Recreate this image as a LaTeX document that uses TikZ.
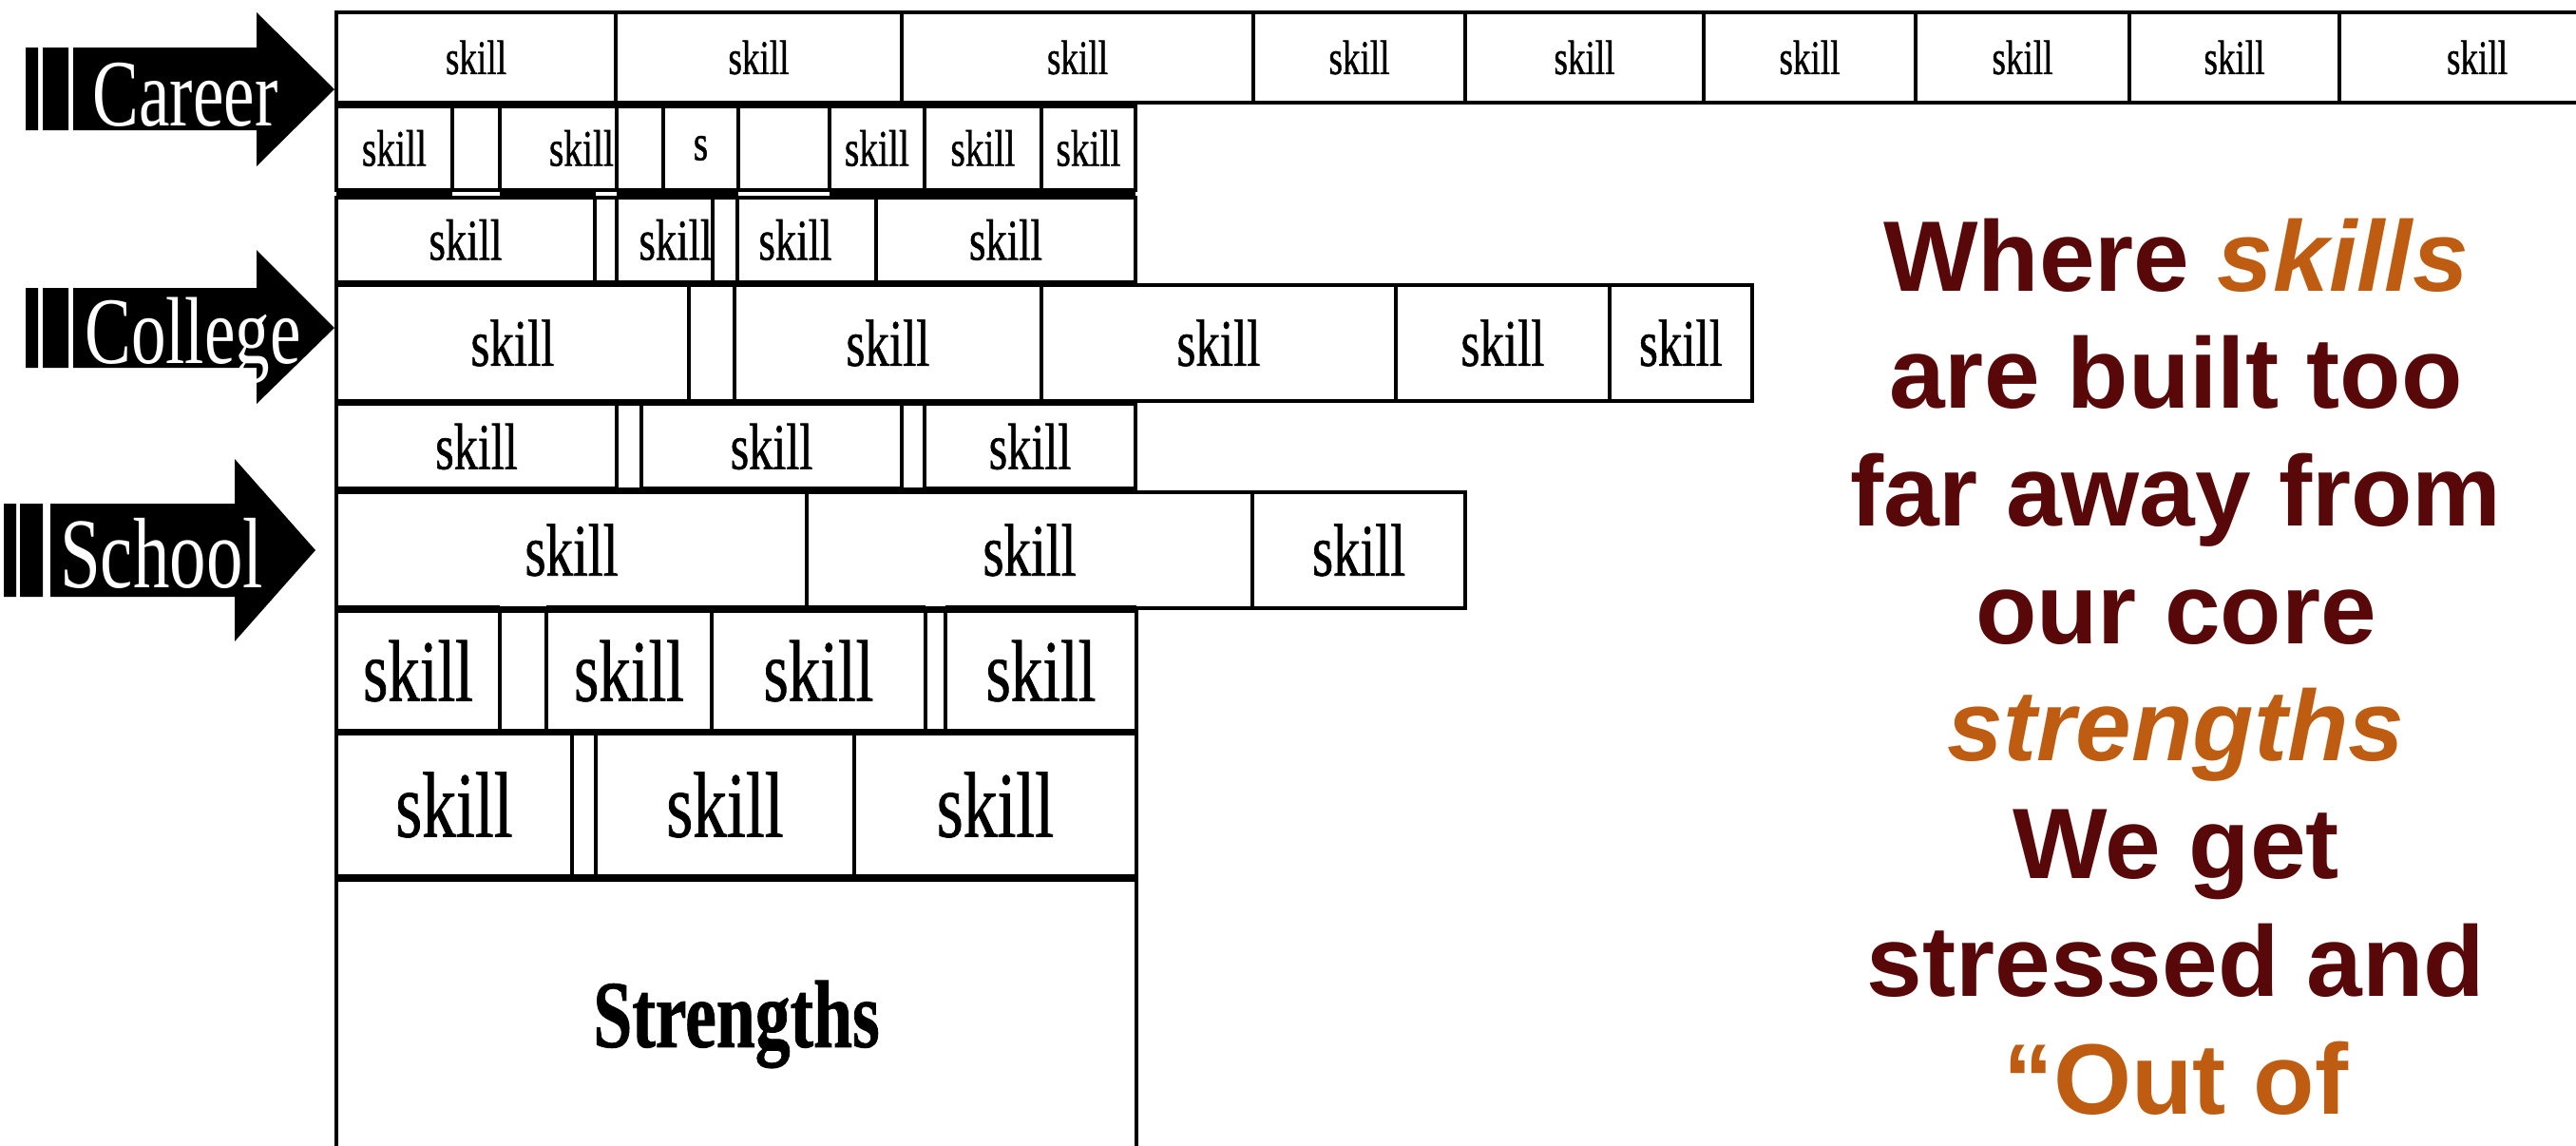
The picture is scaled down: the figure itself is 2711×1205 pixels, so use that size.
\documentclass[tikz,border=0pt]{standalone}
\usepackage{fontspec}
\usepackage{xcolor}
\usepackage{tikz}
\usetikzlibrary{positioning}

\newfontfamily\skillfont[FakeStretch=0.73, FakeBold=0.8]{Liberation Serif}
\newfontfamily\stagefont[FakeStretch=0.73]{Liberation Serif}
\newfontfamily\mottofont{Liberation Sans}
\definecolor{mottored}{RGB}{88,8,8}
\definecolor{mottoorange}{RGB}{190,92,18}
\newcommand\hot[1]{\textcolor{mottoorange}{#1}}

\begin{document}
\begin{tikzpicture}[
  x=0.1mm, y=-0.1mm,
  cell/.style={draw, line width=0.35mm, inner sep=0pt, outer sep=0pt},
  rowA/.style={cell, minimum height=9.5mm,  font=\skillfont\fontsize{14.5}{16}\selectfont},
  rowB/.style={cell, minimum height=8.8mm,  font=\skillfont\fontsize{15.4}{17}\selectfont},
  rowC/.style={cell, minimum height=8.9mm,  font=\skillfont\fontsize{17.4}{19}\selectfont},
  rowD/.style={cell, minimum height=12.2mm, font=\skillfont\fontsize{19.9}{22}\selectfont},
  rowE/.style={cell, minimum height=9.0mm,  font=\skillfont\fontsize{19.6}{22}\selectfont},
  rowF/.style={cell, minimum height=12.2mm, font=\skillfont\fontsize{22.2}{24}\selectfont},
  rowG/.style={cell, minimum height=12.6mm, font=\skillfont\fontsize{26.2}{28}\selectfont},
  rowH/.style={cell, minimum height=15.0mm, font=\skillfont\fontsize{27.9}{30}\selectfont},
  core/.style={cell, minimum height=30.4mm, font=\skillfont\bfseries\fontsize{28.7}{31}\selectfont},
  seam/.style={line width=0.8mm},
  stage/.style={anchor=base, inner sep=0pt, text=white, font=\stagefont\fontsize{28.5}{30}\selectfont},
  motto/.style={anchor=north, align=center, inner sep=0pt, text=mottored,
                font=\mottofont\bfseries\fontsize{30}{35.2}\selectfont}
]
\useasboundingbox (0,0) rectangle (2711,1205);
\clip (0,0) rectangle (2711,1205);

% career row
\node[rowA, anchor=north west, minimum width=29.4mm] (a1) at (354,13) {skill};
\node[rowA, minimum width=30.1mm, right=0pt of a1] (a2) {skill};
\node[rowA, minimum width=37.0mm, right=0pt of a2] (a3) {skill};
\node[rowA, minimum width=22.3mm, right=0pt of a3] (a4) {skill};
\node[rowA, minimum width=25.1mm, right=0pt of a4] (a5) {skill};
\node[rowA, minimum width=22.3mm, right=0pt of a5] (a6) {skill};
\node[rowA, minimum width=22.5mm, right=0pt of a6] (a7) {skill};
\node[rowA, minimum width=22.1mm, right=0pt of a7] (a8) {skill};
\node[rowA, minimum width=29.0mm, right=0pt of a8] (a9) {skill};

\node[rowB, anchor=north west, minimum width=12.2mm] (b1) at (354,112) {skill};
\node[rowB, minimum width=5.0mm,  right=0pt of b1] (b2) {};
\node[rowB, minimum width=12.3mm, right=0pt of b2] (b3) {\hspace*{4.9mm}skill};
\node[rowB, minimum width=4.9mm,  right=0pt of b3] (b4) {};
\node[rowB, minimum width=7.9mm,  right=0pt of b4] (b5) {s};
\node[rowB, minimum width=9.6mm,  right=0pt of b5] (b6) {};
\node[rowB, minimum width=10.0mm, right=0pt of b6] (b7) {skill};
\node[rowB, minimum width=12.3mm, right=0pt of b7] (b8) {skill};
\node[rowB, minimum width=9.9mm,  right=0pt of b8] (b9) {skill};

\node[rowC, anchor=north west, minimum width=27.2mm] (c1) at (354,208) {skill};
\node[rowC, minimum width=2.3mm,  right=0pt of c1] (c2) {};
\node[rowC, minimum width=10.1mm, right=0pt of c2] (c3) {\hspace*{2.3mm}skill};
\node[rowC, minimum width=2.6mm,  right=0pt of c3] (c4) {};
\node[rowC, minimum width=14.6mm, right=0pt of c4] (c5) {\hspace*{-2.4mm}skill};
\node[rowC, minimum width=27.3mm, right=0pt of c5] (c6) {skill};

% college row
\node[rowD, anchor=north west, minimum width=37.1mm] (d1) at (354,300) {skill};
\node[rowD, minimum width=4.8mm,  right=0pt of d1] (d2) {};
\node[rowD, minimum width=32.3mm, right=0pt of d2] (d3) {skill};
\node[rowD, minimum width=37.3mm, right=0pt of d3] (d4) {skill};
\node[rowD, minimum width=22.5mm, right=0pt of d4] (d5) {skill};
\node[rowD, minimum width=15.0mm, right=0pt of d5] (d6) {skill};

\node[rowE, anchor=north west, minimum width=29.5mm] (e1) at (354,425) {skill};
\node[rowE, minimum width=2.6mm,  right=0pt of e1] (e2) {};
\node[rowE, minimum width=27.4mm, right=0pt of e2] (e3) {skill};
\node[rowE, minimum width=2.4mm,  right=0pt of e3] (e4) {};
\node[rowE, minimum width=22.2mm, right=0pt of e4] (e5) {skill};

% school row
\node[rowF, anchor=north west, minimum width=49.5mm] (f1) at (354,518) {skill};
\node[rowF, minimum width=46.9mm, right=0pt of f1] (f2) {skill};
\node[rowF, minimum width=22.4mm, right=0pt of f2] (f3) {skill};

\node[rowG, anchor=north west, minimum width=17.2mm] (g1) at (354,643) {skill};
\node[rowG, minimum width=4.9mm,  right=0pt of g1] (g2) {};
\node[rowG, minimum width=17.4mm, right=0pt of g2] (g3) {skill};
\node[rowG, minimum width=22.5mm, right=0pt of g3] (g4) {skill};
\node[rowG, minimum width=2.1mm,  right=0pt of g4] (g5) {};
\node[rowG, minimum width=20.1mm, right=0pt of g5] (g6) {skill};

\node[rowH, anchor=north west, minimum width=24.8mm] (h1) at (354,772) {skill};
\node[rowH, minimum width=2.5mm,  right=0pt of h1] (h2) {};
\node[rowH, minimum width=27.2mm, right=0pt of h2] (h3) {skill};
\node[rowH, minimum width=29.7mm, right=0pt of h3] (h4) {skill};

\node[core, anchor=north west, minimum width=84.2mm] (strengths) at (354,926) {Strengths};

% heavy joins between rows
\draw[seam] (354,204) -- (476,204) (526,204) -- (627,204) (649,204) -- (777,204) (873,204) -- (1195,204);
\draw[seam] (354,516) -- (649,516) (675,516) -- (949,516) (973,516) -- (1195,516);
\draw[seam] (354,641) -- (526,641) (575,641) -- (974,641) (995,641) -- (1196,641);

% stage arrows
\fill (77,50) -- (270,50) -- (270,13) -- (352,94) -- (270,175) -- (270,137) -- (77,137) -- cycle;
\fill (27,50) rectangle (40,137) (45,50) rectangle (72,137);
\node[stage] (career) at (195,132) {Career};

\fill (77,303) -- (270,303) -- (270,263) -- (352,345) -- (270,425) -- (270,387) -- (77,387) -- cycle;
\fill (27,303) rectangle (40,387) (45,303) rectangle (72,387);
\node[stage] (college) at (203,382) {College};

\fill (53,530) -- (247,530) -- (247,483) -- (332,579) -- (247,675) -- (247,628) -- (53,628) -- cycle;
\fill (4,530) rectangle (17,628) (21,530) rectangle (45,628);
\node[stage, font=\stagefont\fontsize{30}{32}\selectfont] (school) at (170,618) {School};

% message
\node[motto] (motto) at (2290,229) {Where \hot{\itshape skills}\\are built too\\far away from\\our core\\
  \hot{\itshape strengths}\\We get\\stressed and\\\hot{“Out of}};
\end{tikzpicture}
\end{document}
